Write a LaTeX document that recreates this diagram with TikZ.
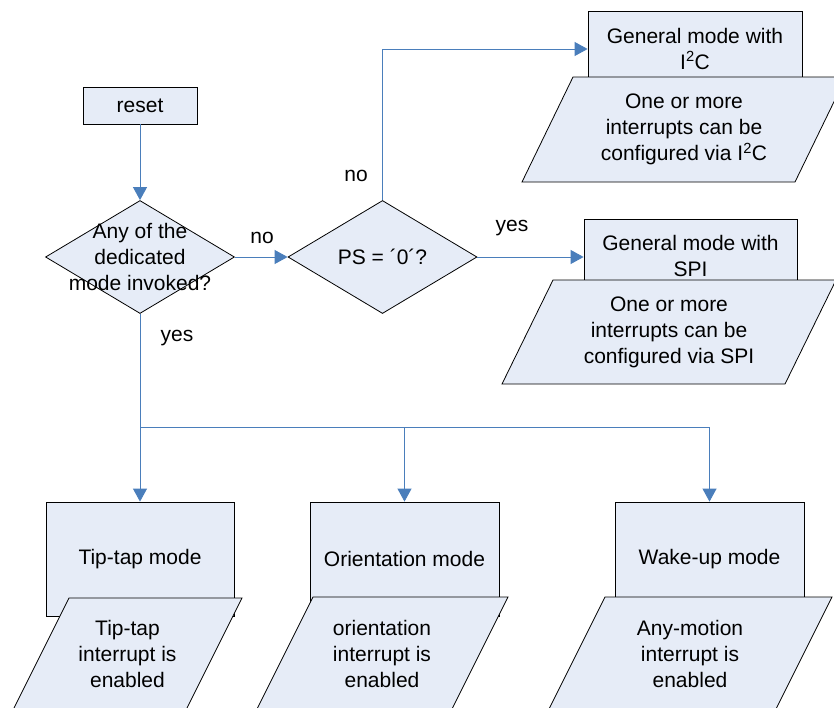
\documentclass[tikz,border=0pt]{standalone}
\usepackage{fontspec}
\setmainfont{Liberation Sans}
\usepackage{tikz}
\usetikzlibrary{arrows.meta,shapes.geometric}
\definecolor{flowblue}{RGB}{74,126,187}
\definecolor{boxfill}{RGB}{230,236,247}

\begin{document}
\begin{tikzpicture}[x=1pt,y=-1pt,
		every node/.style={font=\fontsize{21}{26}\selectfont,align=center,inner sep=0pt},
		block/.style={rectangle,draw=black,fill=boxfill,line width=0.8pt},
		decision/.style={diamond,draw=black,fill=boxfill,line width=0.8pt,minimum width=189pt,minimum height=113pt},
		io/.style={draw=black,fill=boxfill,line width=0.8pt},
		flow/.style={draw=flowblue,line width=0.9pt,-{Triangle[length=13pt,width=14pt]}}]
	\clip (0,0) rectangle (834,707);
	% start and the two questions
	\node[block,minimum width=114pt,minimum height=37pt] (reset) at (140,105.5) {reset};
	\node[decision] (dedicated) at (140,257) {};
	\node (dedicatedtext) at (dedicated) {Any of the\\dedicated\\mode invoked?};
	\node[decision] (ps) at (382.5,257) {};
	\node (pstext) at (ps) {PS = ´0´?};
	% general modes
	\node[block,minimum width=214pt,minimum height=76pt] (i2c) at (695,49) {General mode with\\I\textsuperscript{2}C};
	\draw[io] (573,77) -- (846,77) -- (795,182) -- (522,182) -- cycle;
	\node (i2cnote) at (684,129.5) {One or more\\interrupts can be\\configured via I\textsuperscript{2}C};
	\node[block,minimum width=213pt,minimum height=73pt] (spi) at (690.5,255.5) {General mode with\\SPI};
	\draw[io] (553,280) -- (836,280) -- (785,384) -- (502,384) -- cycle;
	\node (spinote) at (669,332) {One or more\\interrupts can be\\configured via SPI};
	% dedicated modes
	\node[block,minimum width=188pt,minimum height=114pt] (tiptap) at (140,559) {Tip-tap mode};
	\node[block,minimum width=189pt,minimum height=114pt] (orient) at (404.5,559) {Orientation mode};
	\node[block,minimum width=189pt,minimum height=114pt] (wake) at (709.5,559) {Wake-up mode};
	\draw[io] (69,598) -- (242,598) -- (185,712) -- (12,712) -- cycle;
	\node (tiptapnote) at (127.5,654) {Tip-tap\\interrupt is\\enabled};
	\draw[io] (313,597) -- (508,597) -- (451,711) -- (256,711) -- cycle;
	\node (orientnote) at (382,654) {orientation\\interrupt is\\enabled};
	\draw[io] (605,597) -- (832,597) -- (775,711) -- (548,711) -- cycle;
	\node (wakenote) at (690,654) {Any-motion\\interrupt is\\enabled};
	% connectors
	\coordinate (split) at (140,427);
	\draw[flow] (reset) -- (dedicated);
	\draw[flow] (dedicated.east) -- (ps.west);
	\draw[flow] (ps.north) |- (i2c.west);
	\draw[flow] (ps.east) -- (ps.east -| spi.west);
	\draw[flow] (dedicated.south) -- (tiptap.north);
	\draw[flow] (split -| orient.north) -- (orient.north);
	\draw[flow] (split) -| (wake.north);
	\node (nodedicated) at (262,238) {no};
	\node (yesdedicated) at (177,338) {yes};
	\node (nops) at (356,176) {no};
	\node (yesps) at (512,228) {yes};
\end{tikzpicture}
\end{document}
